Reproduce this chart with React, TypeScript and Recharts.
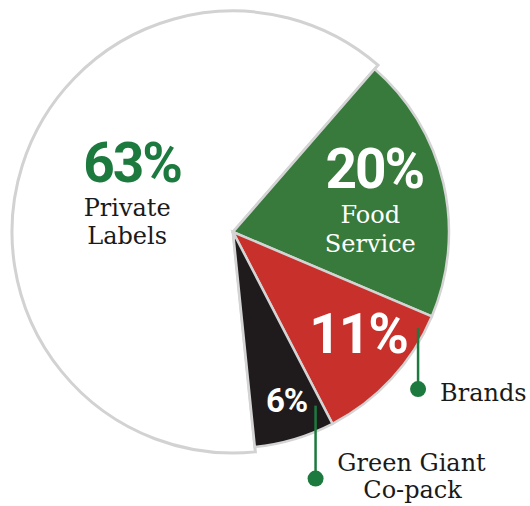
import React from 'react';
import { PieChart, Pie, Cell } from 'recharts';

const segments = ['Food Service', 'Brands', 'Green Giant Co-pack', 'Private Labels'];
const shares = [20, 11, 6, 63];
const pctLabels = ['20%', '11%', '6%', '63%'];
const sliceColors = ['#377a3b', '#c8302b', '#1f1b1c', '#ffffff'];

const data = segments.map((name, i) => ({ name, value: shares[i] }));

const RAD = Math.PI / 180;
const GREEN = '#1d7a3f';
const INK = '#1a1a1a';
const BOLD = 'Roboto, sans-serif';
const SERIF = '"DejaVu Serif", serif';

// distance of each label anchor from the pie centre
const labelRadius = [143, 165, 177, 110];

function SliceLabel(props: any) {
  const { cx, cy, midAngle, index } = props;
  const r = labelRadius[index];
  const x = cx + r * Math.cos(-midAngle * RAD);
  const y = cy + r * Math.sin(-midAngle * RAD);

  if (index === 0) {
    return (
      <g>
        <text x={x + 2} y={y - 12} textAnchor="middle" fill="#fff" fontFamily={BOLD} fontWeight={700} fontSize={55} letterSpacing={-2}>
          {pctLabels[0]}
        </text>
        <text x={x - 2} y={y + 23} textAnchor="middle" fill="#fff" fontFamily={SERIF} fontSize={24}>Food</text>
        <text x={x - 2} y={y + 52} textAnchor="middle" fill="#fff" fontFamily={SERIF} fontSize={24}>Service</text>
      </g>
    );
  }
  if (index === 1) {
    const lx = x + 64;
    return (
      <g>
        <text x={x + 4} y={y + 9} textAnchor="middle" fill="#fff" fontFamily={BOLD} fontWeight={700} fontSize={55} letterSpacing={-2}>
          {pctLabels[1]}
        </text>
        <line x1={lx} y1={y - 16} x2={lx} y2={y + 45} stroke={GREEN} strokeWidth={2.5} />
        <circle cx={lx} cy={y + 45} r={8} fill={GREEN} />
        <text x={x + 86} y={y + 57} textAnchor="start" fill={INK} fontFamily={SERIF} fontSize={24}>Brands</text>
      </g>
    );
  }
  if (index === 2) {
    const lx = x + 32;
    return (
      <g>
        <text x={x + 3} y={y + 10} textAnchor="middle" fill="#fff" fontFamily={BOLD} fontWeight={700} fontSize={33} letterSpacing={-1}>
          {pctLabels[2]}
        </text>
        <line x1={lx} y1={y + 4} x2={lx} y2={y + 77} stroke={GREEN} strokeWidth={2.5} />
        <circle cx={lx} cy={y + 77} r={8} fill={GREEN} />
        <text x={x + 128} y={y + 69} textAnchor="middle" fill={INK} fontFamily={SERIF} fontSize={24}>Green Giant</text>
        <text x={x + 129} y={y + 96} textAnchor="middle" fill={INK} fontFamily={SERIF} fontSize={24}>Co-pack</text>
      </g>
    );
  }
  return (
    <g>
      <text x={x + 4} y={y - 17} textAnchor="middle" fill={GREEN} fontFamily={BOLD} fontWeight={700} fontSize={55} letterSpacing={-2}>
        {pctLabels[3]}
      </text>
      <text x={x - 1} y={y + 17} textAnchor="middle" fill={INK} fontFamily={SERIF} fontSize={24}>Private</text>
      <text x={x - 1} y={y + 45} textAnchor="middle" fill={INK} fontFamily={SERIF} fontSize={24}>Labels</text>
    </g>
  );
}

export default function App() {
  return (
    <div style={{ position: 'absolute', left: 0, top: 0, width: 530, height: 506, background: '#fff' }}>
      <PieChart width={530} height={506} margin={{ top: 0, right: 0, bottom: 0, left: 0 }}>
        {/* grey rim of the big white slice */}
        <Pie
          data={data}
          dataKey="value"
          nameKey="name"
          cx={233}
          cy={232}
          outerRadius={221}
          startAngle={49}
          endAngle={-311}
          isAnimationActive={false}
          labelLine={false}
        >
          {data.map((d, i) => (
            <Cell
              key={d.name}
              fill={i === 3 ? '#ffffff' : 'none'}
              stroke={i === 3 ? '#d2d2d2' : 'none'}
              strokeWidth={3}
            />
          ))}
        </Pie>
        <Pie
          data={data}
          dataKey="value"
          nameKey="name"
          cx={233}
          cy={232}
          outerRadius={216}
          startAngle={49}
          endAngle={-311}
          isAnimationActive={false}
          labelLine={false}
          label={SliceLabel}
        >
          {data.map((d, i) => (
            <Cell
              key={d.name}
              fill={i === 3 ? 'none' : sliceColors[i]}
              stroke={i === 3 ? 'none' : '#d4d4d4'}
              strokeWidth={2.5}
            />
          ))}
        </Pie>
      </PieChart>
    </div>
  );
}
